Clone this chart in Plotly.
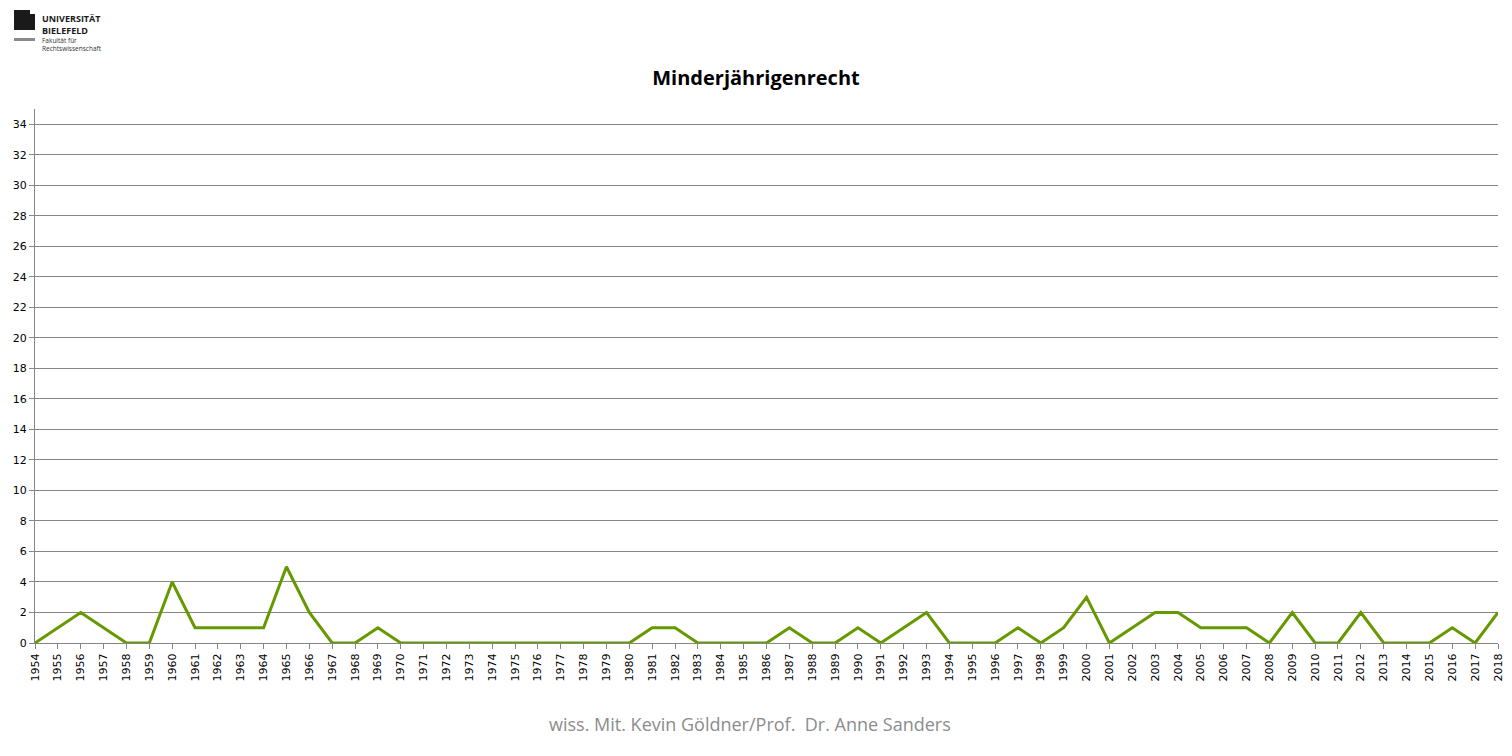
import plotly.graph_objects as go

years = [str(y) for y in range(1954, 2019)]
values = [0, 1, 2, 1, 0, 0, 4, 1, 1, 1, 1, 5, 2, 0, 0, 1, 0,
          0, 0, 0, 0, 0, 0, 0, 0, 0, 0,
          1, 1, 0, 0, 0, 0, 1, 0, 0, 1, 0, 1, 2, 0, 0, 0, 1, 0, 1, 3,
          0, 1, 2, 2, 1, 1, 1, 0, 2, 0, 0, 2, 0, 0, 0, 1, 0, 2]
y_ticks = list(range(0, 35, 2))

# page body has an 8px margin; the figure is sized so it fills the window
OFF = 8
W, H = 1512 - 2 * OFF, 756 - 2 * OFF
ML, MR, MT, MB = 35 - OFF, 1512 - 1498 - OFF, 109 - OFF, 756 - 643 - OFF
PW, PH = W - ML - MR, H - MT - MB


def px(x):
    return (x - OFF - ML) / PW


def py(y):
    return 1 - (y - OFF - MT) / PH


fig = go.Figure()
fig.add_trace(go.Scatter(x=list(range(len(years))), y=values, mode="lines",
                         line=dict(color="#669900", width=3), hoverinfo="skip",
                         cliponaxis=False))

fig.update_layout(
    width=W, height=H,
    margin=dict(l=ML, r=MR, t=MT, b=MB, autoexpand=False),
    paper_bgcolor="white", plot_bgcolor="white",
    showlegend=False,
    font=dict(family="DejaVu Sans", size=11, color="black"),
    title=dict(text="<b>Minderjährigenrecht</b>", x=0.5, xanchor="center",
               y=1 - (78 - OFF) / H, yref="container", yanchor="middle",
               font=dict(family="Open Sans", size=20, color="black")),
)

fig.update_xaxes(
    range=[0, len(years) - 1], tickmode="array",
    tickvals=list(range(len(years))), ticktext=years, tickangle=-90,
    showgrid=False, showline=True, linecolor="#868686", linewidth=1,
    ticks="outside", ticklen=5, tickcolor="#868686",
    ticklabeloverflow="allow", automargin=False,
    tickfont=dict(family="DejaVu Sans", size=11), zeroline=False,
)
fig.update_yaxes(
    range=[0, 35], tickmode="array", tickvals=y_ticks,
    showgrid=True, gridcolor="#868686", gridwidth=1,
    showline=True, linecolor="#868686", linewidth=1,
    ticks="outside", ticklen=5, tickcolor="#868686",
    ticklabeloverflow="allow", automargin=False,
    tickfont=dict(family="DejaVu Sans", size=11), zeroline=False,
)

# Logo
fig.add_shape(type="path", xref="paper", yref="paper",
              path=(f"M {px(14)} {py(30)} L {px(35)} {py(30)} L {px(35)} {py(14)} "
                    f"L {px(30)} {py(14)} L {px(30)} {py(10)} L {px(14)} {py(10)} Z"),
              fillcolor="#1a1a1a", line=dict(width=0))
fig.add_shape(type="rect", xref="paper", yref="paper",
              x0=px(14), x1=px(35), y0=py(41), y1=py(38),
              fillcolor="#8a8a8a", line=dict(width=0))
fig.add_annotation(text="<b>UNIVERSITÄT<br>BIELEFELD</b>", x=px(40), y=py(10),
                   xref="paper", yref="paper", xanchor="left", yanchor="top",
                   showarrow=False, align="left",
                   font=dict(family="Open Sans", size=9, color="#1a1a1a"))
fig.add_annotation(text="Fakultät für<br>Rechtswissenschaft", x=px(40), y=py(34),
                   xref="paper", yref="paper", xanchor="left", yanchor="top",
                   showarrow=False, align="left",
                   font=dict(family="Open Sans", size=6.5, color="#333333"))
# Footer
fig.add_annotation(text="wiss. Mit. Kevin Göldner/Prof.  Dr. Anne Sanders",
                   x=px(750), y=py(724), xref="paper", yref="paper",
                   xanchor="center", yanchor="middle", showarrow=False,
                   font=dict(family="Open Sans", size=18, color="#8c8c8c"))

fig.write_html("out.html")
